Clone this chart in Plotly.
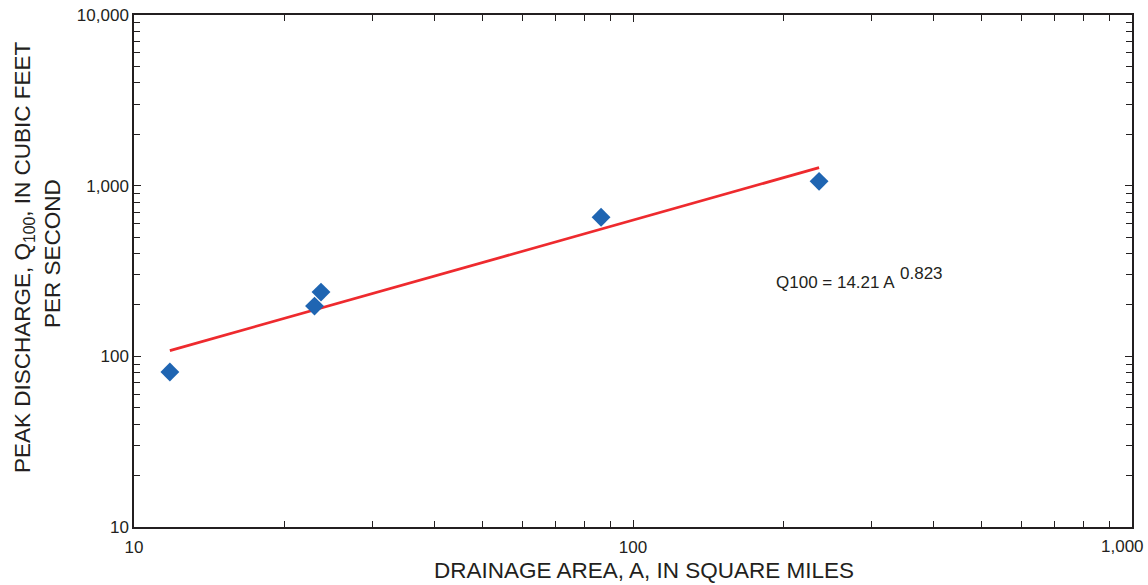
import plotly.graph_objects as go

# Observed data points (drainage area, peak discharge)
area = [11.8, 23.0, 23.7, 86.3, 236]
q100 = [81, 197, 238, 653, 1060]

# Regression line endpoints (Q100 = 14.21 A^0.823)
line_area = [11.8, 236]
line_q = [108, 1275]

x_tickvals = [10, 100, 1000]
x_ticktext = ["10", "100", "1,000"]
y_tickvals = [10, 100, 1000, 10000]
y_ticktext = ["10", "100", "1,000", "10,000"]

FONT = "Liberation Sans, Arial, sans-serif"
TXT = "#231f20"

fig = go.Figure()
fig.add_trace(go.Scatter(x=line_area, y=line_q, mode="lines",
                         line=dict(color="#ee2a2e", width=2.7), showlegend=False))
fig.add_trace(go.Scatter(x=area, y=q100, mode="markers",
                         marker=dict(symbol="diamond", size=14.5, color="#1f65b2"),
                         showlegend=False))

axis_common = dict(
    type="log", showgrid=False, zeroline=False, automargin=False,
    showline=True, linecolor="#231f20", linewidth=1.5, mirror="ticks",
    ticks="inside", ticklen=7, tickwidth=1.3, tickcolor="#231f20",
    minor=dict(ticks="inside", ticklen=6, tickwidth=1.2, tickcolor="#231f20",
               dtick="D1", showgrid=False),
    tickfont=dict(family=FONT, size=17, color=TXT),
)

# last x tick label is drawn as an annotation so it stays inside the page
x_ticktext_axis = x_ticktext[:-1] + [""]
fig.update_xaxes(**axis_common, range=[1, 3], tickvals=x_tickvals,
                 ticktext=x_ticktext_axis, ticklabelstandoff=4)
fig.update_yaxes(**axis_common, range=[1, 4], tickvals=y_tickvals, ticktext=y_ticktext)

fig.add_annotation(x=1.014, y=-0.039, xref="paper", yref="paper", showarrow=False,
                   xanchor="right", yanchor="middle", text=x_ticktext[-1],
                   font=dict(family=FONT, size=17, color=TXT))

title_font = dict(family=FONT, size=22.5, color=TXT)
fig.add_annotation(x=0.511, y=-0.084, xref="paper", yref="paper", showarrow=False,
                   xanchor="center", yanchor="middle",
                   text="DRAINAGE AREA, A, IN SQUARE MILES", font=title_font)
fig.add_annotation(x=-0.1102, y=0.5273, xref="paper", yref="paper", showarrow=False,
                   xanchor="center", yanchor="middle", textangle=-90,
                   text="PEAK DISCHARGE, Q<sub>100</sub>, IN CUBIC FEET", font=title_font)
fig.add_annotation(x=-0.0822, y=0.535, xref="paper", yref="paper", showarrow=False,
                   xanchor="center", yanchor="middle", textangle=-90,
                   text="PER SECOND", font=title_font)

eq_font = dict(family=FONT, size=17, color=TXT)
fig.add_annotation(x=0.6413, y=0.4785, xref="paper", yref="paper", showarrow=False,
                   xanchor="left", yanchor="middle",
                   text="Q100 = 14.21 A", font=eq_font)
fig.add_annotation(x=0.7655, y=0.496, xref="paper", yref="paper", showarrow=False,
                   xanchor="left", yanchor="middle",
                   text="0.823", font=eq_font)

fig.update_layout(width=1148, height=585, paper_bgcolor="white", plot_bgcolor="white",
                  margin=dict(l=134, r=16, t=15, b=58))

fig.write_html("out.html")
